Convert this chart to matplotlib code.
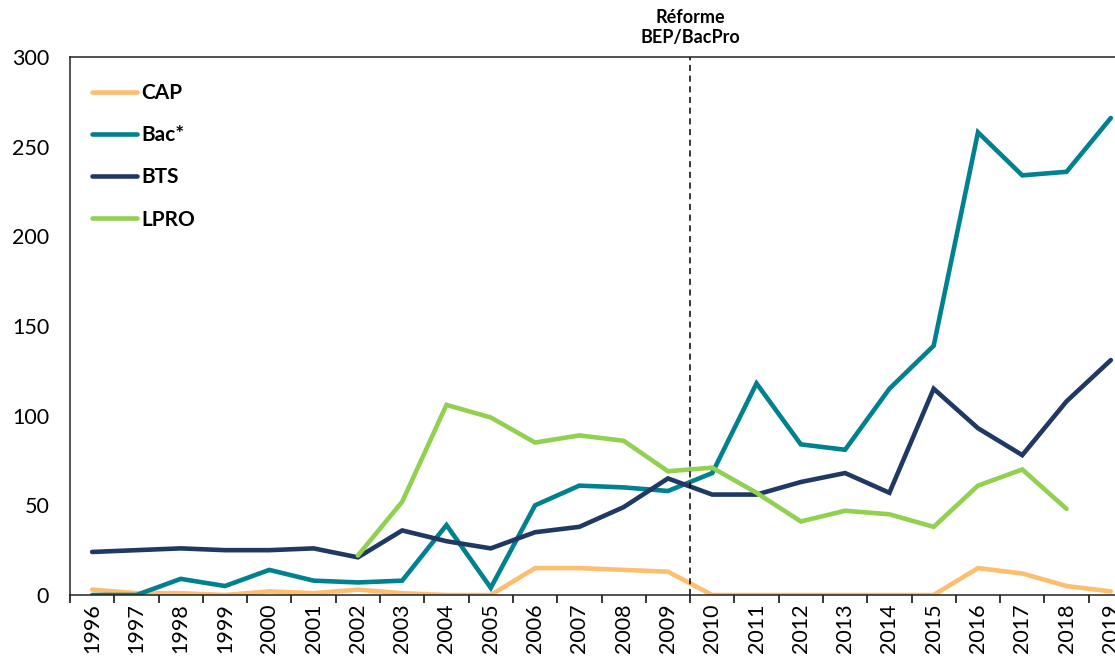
import matplotlib
matplotlib.use("Agg")
import matplotlib.pyplot as plt
import matplotlib.transforms as mtransforms
import numpy as np

plt.rcParams['font.family'] = ['Lato', 'DejaVu Sans']

# data
years = [str(y) for y in range(1996, 2020)]
nan = np.nan
cap = [3, 1, 1, 0, 2, 1, 3, 1, 0, 0, 15, 15, 14, 13, 0, 0, 0, 0, 0, 0, 15, 12, 5, 2]
bac = [0, 0, 9, 5, 14, 8, 7, 8, 39, 4, 50, 61, 60, 58, 68, 118, 84, 81, 115, 139, 258, 234, 236, 266]
bts = [24, 25, 26, 25, 25, 26, 21, 36, 30, 26, 35, 38, 49, 65, 56, 56, 63, 68, 57, 115, 93, 78, 108, 131]
lpro = [nan, nan, nan, nan, nan, nan, 22, 52, 106, 99, 85, 89, 86, 69, 71, 57, 41, 47, 45, 38, 61, 70, 48, nan]

fig = plt.figure(figsize=(11.15, 6.57), dpi=100)
W, H = 1115.0, 657.0
# axes runs a bit past the right edge of the picture, as in the original
ax = fig.add_axes([70 / W, 1 - 595 / H, 1063 / W, 538 / H])

x = np.arange(len(years))
ax.plot(x, cap, color='#FDBF6F', lw=3.3, label='CAP', solid_capstyle='round', solid_joinstyle='miter')
ax.plot(x, bac, color='#00818F', lw=3.3, label='Bac*', solid_capstyle='round', solid_joinstyle='miter')
ax.plot(x, bts, color='#1F3864', lw=3.3, label='BTS', solid_capstyle='round', solid_joinstyle='miter')
ax.plot(x, lpro, color='#92D050', lw=3.3, label='LPRO', solid_capstyle='round', solid_joinstyle='miter')

ax.axvline(13.5, color='black', lw=1.1, dashes=(4, 3))
trans = mtransforms.blended_transform_factory(ax.transData, ax.transAxes)
ax.text(13.5, 1.02, 'Réforme\nBEP/BacPro', transform=trans, ha='center', va='bottom',
        fontsize=13, fontweight='bold', linespacing=1.2)

ax.set_xlim(-0.5, len(years) - 0.5)
ax.set_ylim(0, 300)
ax.set_yticks(range(0, 301, 50))
ax.tick_params(axis='y', length=0, pad=15, labelsize=15.5)

ax.set_xticks(x)
ax.set_xticklabels(years, rotation=90)
ax.set_xticks(np.arange(-0.5, len(years)), minor=True)
ax.tick_params(axis='x', which='major', length=0, pad=6, labelsize=15.5)
ax.tick_params(axis='x', which='minor', length=6, width=1.1, direction='out')

for s in ['left', 'bottom', 'top', 'right']:
    ax.spines[s].set_color('#222222')
    ax.spines[s].set_linewidth(1.1)

ax.legend(loc='upper left', bbox_to_anchor=(0.021, 0.952), frameon=False,
          prop={'weight': 'bold', 'size': 15}, handlelength=2.15, handletextpad=0.2,
          labelspacing=1.07, borderpad=0, borderaxespad=0)

fig.savefig('out.png', dpi=100)
